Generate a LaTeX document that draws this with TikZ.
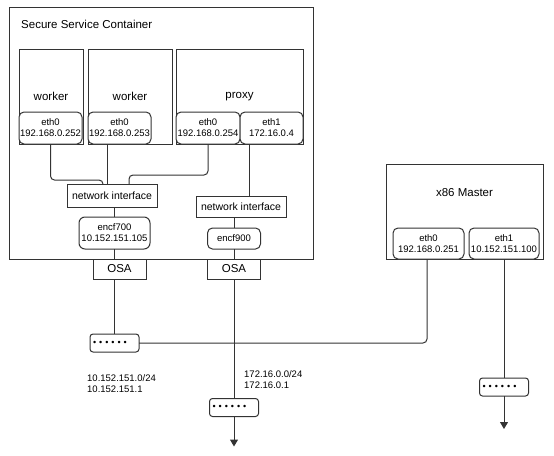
\documentclass[tikz,border=0pt]{standalone}
\usepackage{fontspec}
\setmainfont{Liberation Sans}
\usetikzlibrary{positioning, arrows.meta}

\tikzstyle{host} = [
    rectangle,
    draw = black!80,
    line width = 1pt,
    fill = white,
    inner sep = 0pt,
    outer sep = 0pt
]
\tikzstyle{pod} = [
    rectangle,
    draw = black!80,
    line width = 1pt,
    fill = white,
    text centered,
    outer sep = 0pt,
    minimum height = 95pt,
    font = \fontsize{11.5}{13}\selectfont
]
\tikzstyle{eth} = [
    rectangle,
    draw = black!80,
    line width = 1pt,
    fill = white,
    rounded corners = 5pt,
    align = center,
    inner sep = 0pt,
    outer sep = 0pt,
    minimum height = 32pt,
    font = \fontsize{9.5}{11}\selectfont
]
\tikzstyle{netif} = [
    rectangle,
    draw = black!80,
    line width = 1pt,
    fill = white,
    outer sep = 0pt,
    minimum width = 90pt,
    font = \fontsize{10.5}{12}\selectfont
]
\tikzstyle{osa} = [
    rectangle,
    draw = black!80,
    line width = 1pt,
    fill = white,
    outer sep = 0pt,
    minimum width = 53pt,
    minimum height = 20pt,
    font = \fontsize{11.5}{13}\selectfont
]
\tikzstyle{switch} = [
    rectangle,
    draw = black!80,
    line width = 1pt,
    fill = white,
    rounded corners = 3pt,
    outer sep = 0pt,
    inner sep = 3pt,
    text width = 43pt,
    align = left,
    minimum height = 18pt,
    font = \fontsize{9}{10}\selectfont
]
\tikzstyle{title} = [
    inner sep = 0pt,
    font = \fontsize{11.5}{13}\selectfont
]
\tikzstyle{subnet} = [
    align = left,
    inner sep = 0pt,
    font = \fontsize{9.5}{11}\selectfont
]
\tikzstyle{link} = [
    draw = black!80,
    line width = 1pt,
    rounded corners = 4pt
]
\newcommand{\portdots}{\textbullet\hspace{3pt}\textbullet\hspace{3pt}\textbullet\hspace{3pt}\textbullet\hspace{3pt}\textbullet\hspace{3pt}\textbullet}

\begin{document}
\begin{tikzpicture}[x = 1pt, y = -1pt]

    \useasboundingbox (0,0) rectangle (554,455);

    % Secure Service Container
    \node [host, minimum width = 304pt, minimum height = 252pt] (ssc) at (161,133) {};
    \node [title, anchor = west] (sscTitle) at ([xshift = 12pt, yshift = -17pt]ssc.north west) {Secure Service Container};

    % pods
    \node [pod, minimum width = 64pt] (worker1) at (51,96.5) {worker};
    \node [pod, minimum width = 84pt, right = 5pt of worker1] (worker2) {worker};
    \node [pod, minimum width = 127pt, right = 4pt of worker2] (proxy) {proxy};

    \node [eth, minimum width = 63pt, anchor = south west] (w1Eth0) at (worker1.south west) {eth0\\192.168.0.252};
    \node [eth, minimum width = 63pt, anchor = south west] (w2Eth0) at (worker2.south west) {eth0\\192.168.0.253};
    \node [eth, minimum width = 64pt, anchor = south west] (pEth0) at (proxy.south west) {eth0\\192.168.0.254};
    \node [eth, minimum width = 63pt, right = 0pt of pEth0] (pEth1) {eth1\\172.16.0.4};

    % network interfaces
    \node [netif, minimum height = 23pt] (nif1) at (112,195.5) {network interface};
    \node [netif, minimum height = 21pt] (nif2) at (241,206.5) {network interface};
    \node [eth, minimum width = 71pt, rounded corners = 6pt] (encf700) at (114.5,233) {encf700\\10.152.151.105};
    \node [eth, minimum width = 53pt, minimum height = 21pt] (encf900) at (234,238.5) {encf900};

    % OSA
    \node [osa] (osa1) at (119.5,269) {OSA};
    \node [osa] (osa2) at (234,269) {OSA};

    % switches
    \node [switch] (sw1) at (114.5,343) {\portdots};
    \node [switch] (sw2) at (234,407.5) {\portdots};
    \node [switch] (sw3) at (504,387) {\portdots};

    % x86 Master
    \node [host, minimum width = 157pt, minimum height = 95pt] (master) at (464.5,211.5) {};
    \node [title] (masterTitle) at ([yshift = -29pt]master.north) {x86 Master};
    \node [eth, minimum width = 71pt, minimum height = 31pt, anchor = south] (mEth0) at (428.5,259) {eth0\\192.168.0.251};
    \node [eth, minimum width = 70pt, minimum height = 31pt, anchor = south] (mEth1) at (504,259) {eth1\\10.152.151.100};

    % subnets
    \node [subnet, anchor = west] (net1) at (87,383.5) {10.152.151.0/24\\10.152.151.1};
    \node [subnet, anchor = west] (net2) at (244,379.5) {172.16.0.0/24\\172.16.0.1};

    % links
    \draw [link] (w1Eth0.south) -- ++(0,36) -| ([xshift = -9pt]nif1.north);
    \draw [link] ([xshift = -12.5pt]w2Eth0.south) -- ([xshift = -5pt]nif1.north);
    \draw [link] (pEth0.south) -- ++(0,31) -| ([xshift = 17pt]nif1.north);
    \draw [link] ([xshift = -22.5pt]pEth1.south) -- ([xshift = 8pt]nif2.north);
    \draw [link] (encf700.north |- nif1.south) -- (encf700.north);
    \draw [link] (encf900.north |- nif2.south) -- (encf900.north);
    \draw [link] (encf700.south) -- (encf700.south |- osa1.north);
    \draw [link] (osa1.south -| encf700.south) -- (sw1.north);
    \draw [link] (encf900.south) -- (osa2.north);
    \draw [link] (osa2.south) -- (sw2.north);
    \draw [link] (sw1.east) -| ([xshift = -1.5pt]mEth0.south);
    \draw [link] (mEth1.south) -- (sw3.north);
    \draw [link, -{Triangle[width = 8pt, length = 7pt]}] (sw2.south) -- ++(0,30);
    \draw [link, -{Triangle[width = 8pt, length = 7pt]}] (sw3.south) -- ++(0,33);

\end{tikzpicture}
\end{document}
